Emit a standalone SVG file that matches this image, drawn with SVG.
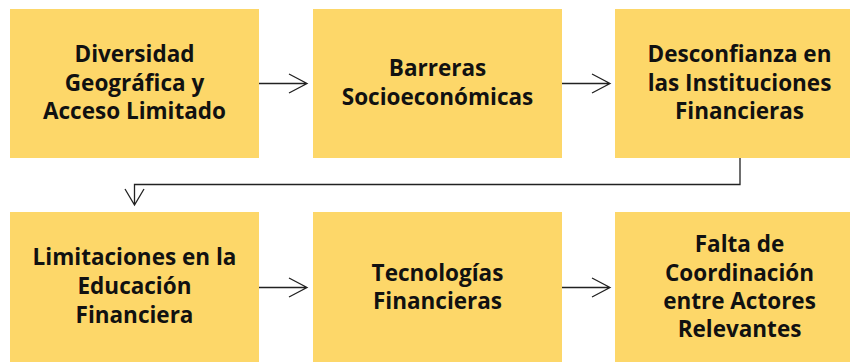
<svg xmlns="http://www.w3.org/2000/svg" width="850" height="363" viewBox="0 0 850 363">
<style>
.box{fill:#FDD769;}
.t{font-family:"Open Sans","Liberation Sans",sans-serif;font-weight:bold;font-size:22.5px;fill:#111;text-anchor:middle;}
.c{fill:none;stroke:#222;stroke-width:1.3;}
</style>
<rect width="850" height="363" fill="#fff"/>
<g id="n1"><rect class="box" x="10" y="9" width="249" height="149"/>
<text class="t" x="134.5" y="62">Diversidad</text><text class="t" x="134.5" y="91">Geográfica y</text><text class="t" x="134.5" y="119">Acceso Limitado</text></g>
<g id="n2"><rect class="box" x="313" y="9" width="249" height="149"/>
<text class="t" x="437.5" y="76">Barreras</text><text class="t" x="437.5" y="105">Socioeconómicas</text></g>
<g id="n3"><rect class="box" x="615" y="9" width="249" height="149"/>
<text class="t" x="739.5" y="62">Desconfianza en</text><text class="t" x="739.5" y="91">las Instituciones</text><text class="t" x="739.5" y="119">Financieras</text></g>
<g id="n4"><rect class="box" x="10" y="212" width="249" height="150"/>
<text class="t" x="134.5" y="265">Limitaciones en la</text><text class="t" x="134.5" y="294">Educación</text><text class="t" x="134.5" y="323">Financiera</text></g>
<g id="n5"><rect class="box" x="313" y="212" width="249" height="150"/>
<text class="t" x="437.5" y="281">Tecnologías</text><text class="t" x="437.5" y="309">Financieras</text></g>
<g id="n6"><rect class="box" x="615" y="212" width="249" height="150"/>
<text class="t" x="739.5" y="252">Falta de</text><text class="t" x="739.5" y="281">Coordinación</text><text class="t" x="739.5" y="309">entre Actores</text><text class="t" x="739.5" y="337">Relevantes</text></g>
<g id="connectors">
<path class="c" d="M259 83.5H307M289 74L307 83.5L289 93"/>
<path class="c" d="M562 83.5H610M592 74L610 83.5L592 93"/>
<path class="c" d="M259 287.5H307M289 278L307 287.5L289 297"/>
<path class="c" d="M562 287.5H610M592 278L610 287.5L592 297"/>
<path class="c" d="M740 158V184.5H134.5V205M125 189L134.5 205L144 189"/>
</g>
</svg>
